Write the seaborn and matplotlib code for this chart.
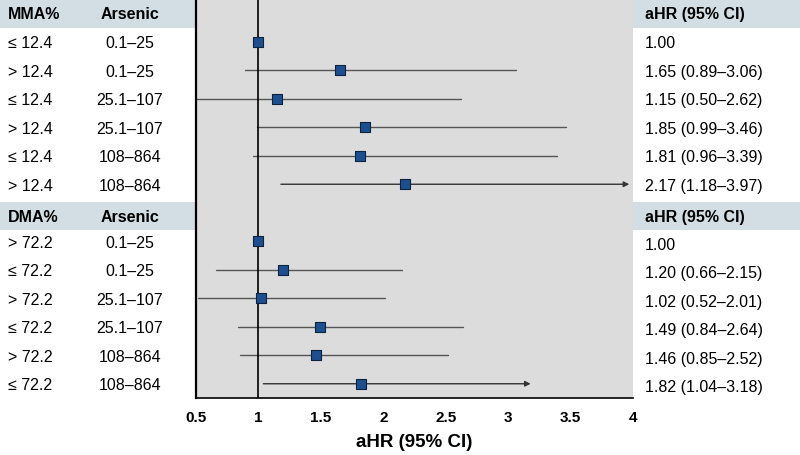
import matplotlib
matplotlib.use("Agg")
import matplotlib.pyplot as plt
from matplotlib.patches import Rectangle
import seaborn as sns
import pandas as pd
import numpy as np

# ---- data ----
mma_groups = ["≤ 12.4", "> 12.4", "≤ 12.4", "> 12.4", "≤ 12.4", "> 12.4"]
dma_groups = ["> 72.2", "≤ 72.2", "> 72.2", "≤ 72.2", "> 72.2", "≤ 72.2"]
arsenic = ["0.1–25", "0.1–25", "25.1–107", "25.1–107", "108–864", "108–864"]
mma_hr = [1.00, 1.65, 1.15, 1.85, 1.81, 2.17]
mma_lo = [np.nan, 0.89, 0.50, 0.99, 0.96, 1.18]
mma_hi = [np.nan, 3.06, 2.62, 3.46, 3.39, 3.97]
dma_hr = [1.00, 1.20, 1.02, 1.49, 1.46, 1.82]
dma_lo = [np.nan, 0.66, 0.52, 0.84, 0.85, 1.04]
dma_hi = [np.nan, 2.15, 2.01, 2.64, 2.52, 3.18]
mma_labels = ["1.00", "1.65 (0.89–3.06)", "1.15 (0.50–2.62)", "1.85 (0.99–3.46)",
              "1.81 (0.96–3.39)", "2.17 (1.18–3.97)"]
dma_labels = ["1.00", "1.20 (0.66–2.15)", "1.02 (0.52–2.01)", "1.49 (0.84–2.64)",
              "1.46 (0.85–2.52)", "1.82 (1.04–3.18)"]
xticks = [0.5, 1, 1.5, 2, 2.5, 3, 3.5, 4]
xtick_labels = ["0.5", "1", "1.5", "2", "2.5", "3", "3.5", "4"]

n = len(arsenic)
df = pd.DataFrame({
    "block": ["MMA%"] * n + ["DMA%"] * n,
    "group": mma_groups + dma_groups,
    "arsenic": arsenic + arsenic,
    "hr": mma_hr + dma_hr,
    "lo": mma_lo + dma_lo,
    "hi": mma_hi + dma_hi,
    "label": mma_labels + dma_labels,
})
df["pos"] = [i + 1 for i in range(n)] + [n + 2 + i for i in range(n)]
df["last"] = [i == n - 1 for i in range(n)] * 2
header_pos = {"MMA%": 0, "DMA%": n + 1}

sns.set_theme(style="white")
FONT = ["Liberation Sans", "DejaVu Sans"]
plt.rcParams["font.family"] = FONT
plt.rcParams["text.color"] = "black"
plt.rcParams["xtick.color"] = "black"
plt.rcParams["axes.labelcolor"] = "black"

W, H = 800, 456
fig = plt.figure(figsize=(W / 100, H / 100), dpi=100)
ax_left, ax_right = 196 / W, 633 / W
ax_bottom, ax_top = 1 - 399 / H, 1.0
ax = fig.add_axes([ax_left, ax_bottom, ax_right - ax_left, ax_top - ax_bottom])
ax.set_facecolor("#dcdcdc")

nslots = 2 * n + 2
ax.set_ylim(nslots - 0.5, -0.5)
ax.set_xlim(0.5, 4.0)

# header bands (figure-wide, behind axes)
slot_h = (ax_top - ax_bottom) / nslots
for blk, hp in header_pos.items():
    off = 0.12 if blk == "DMA%" else 0.0
    yb = ax_top - (hp + 1 + off) * slot_h
    fig.patches.append(Rectangle((0, yb), 1, slot_h, transform=fig.transFigure,
                                 facecolor="#d3dee4", edgecolor="none", zorder=-5))

# CI lines
for _, r in df.iterrows():
    if np.isnan(r["lo"]):
        continue
    if r["last"]:
        ax.annotate("", xy=(r["hi"], r["pos"]), xytext=(r["lo"], r["pos"]),
                    arrowprops=dict(arrowstyle="-|>", color="#333333", lw=1.0,
                                    mutation_scale=8, shrinkA=0, shrinkB=0), zorder=2)
    else:
        ax.plot([r["lo"], r["hi"]], [r["pos"], r["pos"]], color="#555555", lw=1.0, zorder=2)

ax.axvline(1.0, color="black", lw=1.2, zorder=3)

sns.scatterplot(data=df, x="hr", y="pos", marker="s", s=55, color="#1d4f8e",
                edgecolor="#0b2240", linewidth=0.8, ax=ax, zorder=4, legend=False)

# axes styling
for s in ["top", "right"]:
    ax.spines[s].set_visible(False)
ax.spines["left"].set_color("black")
ax.spines["left"].set_linewidth(1.6)
ax.spines["bottom"].set_color("black")
ax.spines["bottom"].set_linewidth(1.2)
ax.set_yticks([])
ax.set_xticks(xticks)
ax.set_xticklabels(xtick_labels, fontsize=11, fontweight="bold", family=FONT)
ax.tick_params(axis="x", direction="out", length=5, width=1, color="black", pad=4)
ax.set_xlabel("aHR (95% CI)", fontsize=13.5, fontweight="bold", family=FONT, labelpad=6)
ax.set_ylabel("")

# table text
tr = ax.get_yaxis_transform()
def fx(px):
    return (px / W - ax_left) / (ax_right - ax_left)

fs = 11.5
for blk, hp in header_pos.items():
    yy = hp + (0.12 if blk == "DMA%" else 0)
    ax.text(fx(8), yy, blk, transform=tr, ha="left", va="center", fontsize=fs,
            fontweight="bold", clip_on=False)
    ax.text(fx(130), yy, "Arsenic", transform=tr, ha="center", va="center", fontsize=fs,
            fontweight="bold", clip_on=False)
    ax.text(fx(645), yy, "aHR (95% CI)", transform=tr, ha="left", va="center", fontsize=fs,
            fontweight="bold", clip_on=False)
for _, r in df.iterrows():
    ax.text(fx(8), r["pos"] + 0.04, r["group"], transform=tr, ha="left", va="center",
            fontsize=fs, clip_on=False)
    ax.text(fx(130), r["pos"] + 0.04, r["arsenic"], transform=tr, ha="center", va="center",
            fontsize=fs, clip_on=False)
    ax.text(fx(645), r["pos"] + (0.1 if r["block"] == "DMA%" else 0.04), r["label"],
            transform=tr, ha="left", va="center", fontsize=fs, clip_on=False)

fig.savefig("out.png", dpi=100)
